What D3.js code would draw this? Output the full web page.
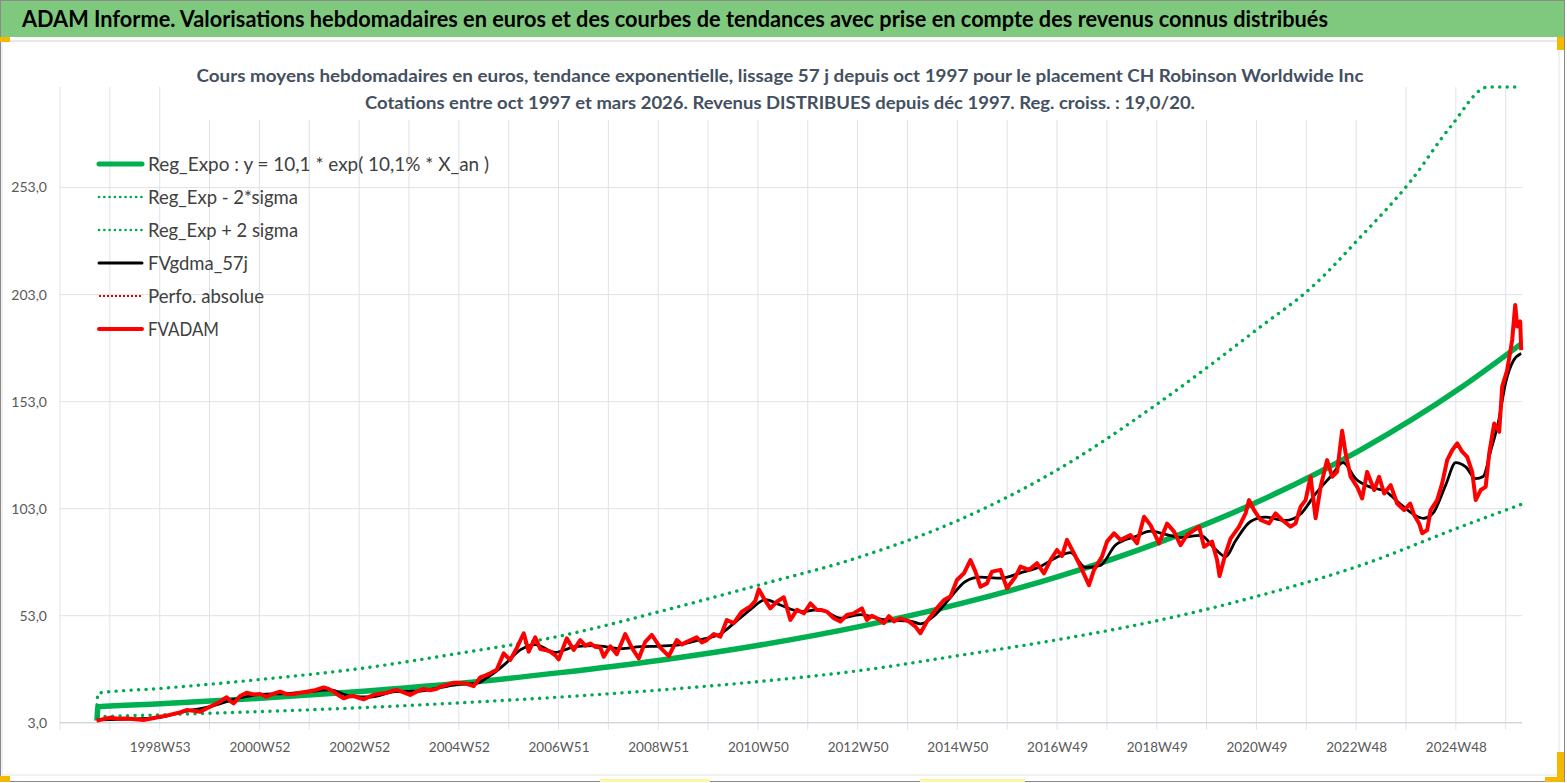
<!DOCTYPE html>
<html>
<head>
<meta charset="utf-8">
<script src="https://cdn.jsdelivr.net/npm/d3@7"></script>
<style>
  body { margin: 0; background: #fff; }
  svg { display: block; }
</style>
</head>
<body>
<div id="chart"></div>
<script>
// ---- data (year as decimal, value in euros) ----
const xLabels = ['1998W53', '2000W52', '2002W52', '2004W52', '2006W51', '2008W51', '2010W50',
  '2012W50', '2014W50', '2016W49', '2018W49', '2020W49', '2022W48', '2024W48'];

const yTicks = [3, 53, 103, 153, 203, 253];

const legendNames = ['Reg_Expo : y = 10,1 * exp( 10,1% *  X_an )', 'Reg_Exp - 2*sigma',
  'Reg_Exp + 2 sigma', 'FVgdma_57j', 'Perfo. absolue', 'FVADAM'];

const regExpo = [[1997.74, 4.0], [1997.76, 10.4], [1999, 11.8], [2001, 14.4], [2003, 17.6],
  [2005, 21.4], [2007, 26.4], [2009, 32.2], [2011, 39.3], [2013, 48.0], [2015, 58.6],
  [2017, 71.6], [2019, 87.5], [2021, 106.8], [2023, 130.5], [2025, 159.5], [2026.21, 180.0]];

const regMinus = [[1997.75, 5.8], [1999, 6.7], [2001, 8.2], [2003, 10.0], [2005, 12.3],
  [2007, 15.0], [2009, 18.3], [2011, 22.3], [2013, 27.4], [2015, 34.5], [2017, 42.0],
  [2019, 51.0], [2021, 62.5], [2023, 76.5], [2025, 94.5], [2026.21, 105.0]];

const regPlus = [[1997.74, 11.3], [1997.76, 16.8], [1999, 19.0], [2001, 23.2], [2003, 28.3],
  [2005, 35.5], [2007, 43.5], [2009, 55.0], [2011, 67.5], [2013, 80.5], [2015, 98.0],
  [2017, 122.0], [2019, 153.0], [2021, 188.0], [2022, 206.0], [2023, 230.0], [2024, 256.0],
  [2024.8, 281.5], [2025.55, 300], [2026.21, 300]];

const fvgdma = [[1997.75, 4.3], [1998.5, 4.8], [1999.0, 5.5], [1999.5, 8.3], [2000.0, 10.5],
  [2000.5, 14.0], [2001.0, 16.2], [2001.5, 16.6], [2002.0, 17.5], [2002.4, 18.3], [2002.8, 15.4],
  [2003.2, 15.0], [2003.7, 17.5], [2004.2, 17.8], [2004.6, 19.4], [2005.0, 21.0], [2005.3, 21.2],
  [2005.6, 25.0], [2005.9, 30.5], [2006.2, 37.0], [2006.5, 39.5], [2006.9, 35.8], [2007.3, 38.5],
  [2007.7, 39.0], [2008.2, 37.6], [2008.6, 38.5], [2009.0, 38.8], [2009.4, 39.5], [2009.8, 41.8],
  [2010.2, 44.5], [2010.5, 50.0], [2010.8, 55.8], [2011.1, 60.5], [2011.4, 58.0], [2011.8, 55.0],
  [2012.2, 55.8], [2012.6, 51.8], [2013.0, 53.5], [2013.5, 51.0], [2014.0, 50.5], [2014.2, 49.2],
  [2014.5, 53.5], [2014.8, 61.5], [2015.1, 69.0], [2015.4, 71.0], [2015.8, 70.5], [2016.2, 73.0],
  [2016.6, 76.0], [2016.9, 80.0], [2017.2, 82.5], [2017.5, 75.5], [2017.8, 76.5], [2018.1, 86.0],
  [2018.5, 90.0], [2018.8, 92.5], [2019.1, 91.0], [2019.4, 89.5], [2019.8, 90.5], [2020.1, 84.0],
  [2020.3, 80.5], [2020.5, 88.0], [2020.8, 97.0], [2021.1, 99.0], [2021.5, 97.5], [2021.8, 100.5],
  [2022.1, 110.0], [2022.4, 118.0], [2022.65, 124.5], [2022.9, 117.0], [2023.2, 113.0],
  [2023.5, 111.0], [2023.8, 105.0], [2024.05, 100.5], [2024.25, 98.5], [2024.45, 101.0],
  [2024.7, 114.0], [2024.9, 124.5], [2025.1, 122.5], [2025.3, 117.0], [2025.45, 118.0],
  [2025.6, 130.0], [2025.75, 143.0], [2025.9, 162.0], [2026.05, 172.0], [2026.21, 175.5]];

const fvadam = [[1997.73, 4.0], [1997.8, 4.3], [1998.0, 5.3], [1998.17, 4.8], [1998.33, 5.0],
  [1998.5, 4.6], [1998.67, 4.3], [1998.83, 5.0], [1999.0, 5.8], [1999.13, 6.3], [1999.27, 7.1],
  [1999.4, 7.8], [1999.53, 8.9], [1999.67, 8.6], [1999.8, 8.1], [1999.93, 9.6], [2000.07, 11.3],
  [2000.2, 12.8], [2000.33, 14.9], [2000.4, 13.2], [2000.47, 12.0], [2000.6, 15.5], [2000.73, 17.0],
  [2000.87, 16.2], [2001.0, 16.4], [2001.13, 15.1], [2001.27, 16.6], [2001.4, 17.5], [2001.53, 16.3],
  [2001.67, 16.4], [2001.8, 17.0], [2001.93, 17.5], [2002.1, 18.2], [2002.27, 19.5], [2002.37, 18.8],
  [2002.47, 17.5], [2002.57, 15.8], [2002.67, 14.4], [2002.77, 15.2], [2002.87, 15.5], [2002.97, 14.6],
  [2003.07, 13.9], [2003.17, 15.0], [2003.27, 16.0], [2003.4, 16.5], [2003.53, 17.0], [2003.63, 17.8],
  [2003.73, 18.3], [2003.87, 17.2], [2004.0, 16.0], [2004.13, 17.5], [2004.27, 18.8], [2004.4, 18.2],
  [2004.53, 18.8], [2004.6, 19.8], [2004.73, 20.6], [2004.87, 21.7], [2005.0, 21.5], [2005.13, 21.2],
  [2005.27, 20.1], [2005.4, 24.2], [2005.5, 25.0], [2005.6, 26.1], [2005.73, 27.7], [2005.87, 35.4],
  [2006.0, 32.3], [2006.13, 37.8], [2006.27, 44.8], [2006.37, 36.2], [2006.5, 42.9], [2006.6, 37.4],
  [2006.7, 37.0], [2006.8, 36.2], [2006.9, 34.5], [2006.97, 32.6], [2007.13, 42.4], [2007.27, 37.0],
  [2007.4, 41.6], [2007.5, 39.0], [2007.6, 40.0], [2007.7, 38.5], [2007.8, 38.1], [2007.87, 33.8],
  [2008.0, 38.7], [2008.13, 35.0], [2008.3, 44.4], [2008.43, 38.1], [2008.57, 33.0], [2008.7, 40.8],
  [2008.83, 44.0], [2009.0, 38.1], [2009.17, 34.1], [2009.33, 41.6], [2009.43, 39.5], [2009.53, 40.8],
  [2009.63, 41.8], [2009.73, 42.9], [2009.83, 40.5], [2009.93, 41.6], [2010.07, 44.4], [2010.2, 43.2],
  [2010.33, 51.0], [2010.47, 49.5], [2010.63, 54.9], [2010.8, 57.3], [2010.9, 60.0], [2010.97, 65.3],
  [2011.07, 61.1], [2011.2, 56.4], [2011.33, 59.5], [2011.47, 61.6], [2011.6, 51.0], [2011.73, 55.7],
  [2011.87, 54.1], [2012.0, 58.7], [2012.13, 55.7], [2012.2, 55.7], [2012.33, 54.9], [2012.47, 51.8],
  [2012.6, 50.3], [2012.73, 53.3], [2012.87, 54.1], [2013.03, 56.4], [2013.13, 51.0], [2013.23, 53.0],
  [2013.33, 51.8], [2013.47, 49.5], [2013.57, 52.8], [2013.67, 50.3], [2013.8, 51.8], [2013.97, 50.3],
  [2014.1, 47.9], [2014.2, 44.8], [2014.33, 50.3], [2014.5, 55.7], [2014.67, 60.3], [2014.8, 61.9],
  [2014.93, 69.7], [2015.07, 72.8], [2015.2, 79.0], [2015.3, 73.6], [2015.4, 66.5], [2015.53, 68.1],
  [2015.63, 73.6], [2015.8, 74.4], [2015.93, 65.8], [2016.1, 71.2], [2016.2, 75.9], [2016.37, 74.4],
  [2016.53, 77.5], [2016.67, 72.8], [2016.8, 79.0], [2016.93, 83.7], [2017.03, 80.9], [2017.13, 88.4],
  [2017.27, 82.1], [2017.4, 75.9], [2017.57, 67.3], [2017.67, 74.4], [2017.83, 80.6], [2017.93, 87.6],
  [2018.07, 91.5], [2018.2, 88.4], [2018.4, 90.7], [2018.53, 86.8], [2018.67, 99.2], [2018.8, 95.3],
  [2018.97, 86.8], [2019.13, 96.0], [2019.27, 92.3], [2019.4, 86.0], [2019.53, 90.7], [2019.77, 94.6],
  [2019.87, 85.2], [2020.03, 87.6], [2020.13, 79.0], [2020.18, 71.5], [2020.3, 82.0], [2020.4, 89.0],
  [2020.57, 94.6], [2020.7, 100.8], [2020.77, 107.0], [2020.87, 102.3], [2021.0, 97.7], [2021.17, 96.1],
  [2021.3, 100.8], [2021.43, 97.7], [2021.6, 94.6], [2021.7, 96.1], [2021.8, 103.9], [2021.9, 107.0],
  [2022.0, 117.9], [2022.1, 98.5], [2022.2, 113.2], [2022.33, 125.7], [2022.43, 117.9], [2022.53, 120.2],
  [2022.63, 139.4], [2022.7, 128.8], [2022.8, 117.9], [2022.93, 113.2], [2023.03, 107.8], [2023.13, 120.2],
  [2023.27, 111.7], [2023.37, 117.9], [2023.47, 110.1], [2023.6, 114.0], [2023.73, 105.4], [2023.87, 102.3],
  [2023.99, 105.4], [2024.07, 100.0], [2024.17, 96.1], [2024.23, 91.5], [2024.33, 93.0], [2024.4, 102.3],
  [2024.53, 107.0], [2024.63, 114.8], [2024.73, 125.7], [2024.83, 130.3], [2024.93, 133.5], [2025.03, 129.6],
  [2025.13, 127.2], [2025.23, 120.2], [2025.3, 107.0], [2025.4, 111.7], [2025.5, 113.2], [2025.57, 128.8],
  [2025.67, 142.8], [2025.77, 138.9], [2025.83, 160.0], [2025.93, 167.8], [2026.03, 181.9], [2026.09, 198.2],
  [2026.13, 188.1], [2026.19, 190.5], [2026.21, 177.1]];

// ---- layout ----
const width = 1567;
const height = 783;
const weeksPerYear = 52.18;
const nWeeks = 1525;
const plotLeft = 60, plotRight = 1522, plotTop = 87, plotBottom = 722.7;
const font = 'Lato, "Open Sans", sans-serif';

const svg = d3.select('#chart')
  .append('svg')
  .attr('width', width)
  .attr('height', height);

// frame and title bar
svg.append('rect')
  .attr('x', 0.5).attr('y', 0.5)
  .attr('width', width - 3).attr('height', height - 2)
  .style('fill', '#fff').style('stroke', '#8a8a8a');

svg.append('rect')
  .attr('x', 1).attr('y', 1)
  .attr('width', width - 4).attr('height', 36)
  .style('fill', '#7fc97f');

svg.append('line')
  .attr('x1', 1).attr('x2', width - 4).attr('y1', 41).attr('y2', 41)
  .style('stroke', '#d9d9d9');

svg.append('rect')
  .attr('x', 2).attr('y', 41)
  .attr('width', 1557).attr('height', 734)
  .style('fill', 'none').style('stroke', '#e3e3e3');

svg.append('text')
  .attr('x', 22).attr('y', 27)
  .attr('textLength', 1306).attr('lengthAdjust', 'spacingAndGlyphs')
  .style('font-family', font).style('font-size', '22px').style('font-weight', 'bold')
  .style('fill', '#000')
  .text('ADAM Informe. Valorisations hebdomadaires en euros et des courbes de tendances avec prise en compte des revenus connus distribués');

// excel selection handles
const handles = [[0, 37, 10, 5], [1557, 37, 7, 13], [0, 776, 10, 6], [1557, 752, 7, 30], [1545, 777, 19, 5]];
svg.selectAll('rect.handle').data(handles).enter().append('rect')
  .attr('class', 'handle')
  .attr('x', d => d[0]).attr('y', d => d[1])
  .attr('width', d => d[2]).attr('height', d => d[3])
  .style('fill', '#f5b800');
const paleHandles = [[600, 779, 110, 3], [920, 779, 105, 3]];
svg.selectAll('rect.pale').data(paleHandles).enter().append('rect')
  .attr('class', 'pale')
  .attr('x', d => d[0]).attr('y', d => d[1])
  .attr('width', d => d[2]).attr('height', d => d[3])
  .style('fill', '#fff3a8');

// ---- scales ----
const x = d3.scaleLinear().domain([0, nWeeks]).range([plotLeft, plotRight]);
const y = d3.scaleLinear().domain([3, 300]).range([plotBottom, plotTop]);
const toWeek = yr => (yr - 1997) * weeksPerYear;

const gridWeeks = d3.range(0, nWeeks, 52);
const labelWeeks = xLabels.map((d, i) => 104 * (i + 1));

// vertical gridlines and tick marks
svg.append('g')
  .selectAll('line')
  .data(gridWeeks)
  .enter().append('line')
  .attr('x1', d => x(d)).attr('x2', d => x(d))
  .attr('y1', plotTop).attr('y2', plotBottom + 7)
  .style('stroke', '#dfe2e8').style('stroke-width', 1);

// horizontal gridlines
svg.append('g')
  .selectAll('line')
  .data(yTicks)
  .enter().append('line')
  .attr('x1', plotLeft).attr('x2', plotRight)
  .attr('y1', d => y(d)).attr('y2', d => y(d))
  .style('stroke', d => d === 3 ? '#d4d7de' : '#dfe2e8')
  .style('stroke-width', d => d === 3 ? 1.5 : 1);

// y labels
svg.append('g')
  .selectAll('text')
  .data(yTicks)
  .enter().append('text')
  .attr('x', 47).attr('y', d => y(d))
  .attr('dy', '0.35em')
  .attr('text-anchor', 'end')
  .style('font-family', font).style('font-size', '14px').style('fill', '#595959')
  .text(d => d3.format('.1f')(d).replace('.', ','));

// x labels
const xAxis = d3.axisBottom(x)
  .tickValues(labelWeeks)
  .tickFormat((d, i) => xLabels[i])
  .tickSize(0)
  .tickPadding(20);
const gx = svg.append('g')
  .attr('transform', `translate(0,${plotBottom})`)
  .call(xAxis);
gx.select('.domain').remove();
gx.selectAll('text')
  .style('font-family', font).style('font-size', '13.5px').style('fill', '#595959');

// subtitle (opaque box over the gridlines)
svg.append('rect')
  .attr('x', 185).attr('y', 58)
  .attr('width', 1195).attr('height', 62)
  .style('fill', '#fff');

const subtitle = [
  ['Cours moyens hebdomadaires en euros, tendance exponentielle, lissage 57 j depuis oct 1997 pour le placement CH Robinson Worldwide Inc', 82, 1167],
  ['Cotations entre oct 1997 et mars 2026. Revenus DISTRIBUES depuis déc 1997. Reg. croiss. : 19,0/20.', 109, 830]
];
svg.selectAll('text.sub').data(subtitle).enter().append('text')
  .attr('class', 'sub')
  .attr('x', 780).attr('y', d => d[1])
  .attr('text-anchor', 'middle')
  .attr('textLength', d => d[2]).attr('lengthAdjust', 'spacingAndGlyphs')
  .style('font-family', font).style('font-size', '16.5px').style('font-weight', 'bold')
  .style('fill', '#44505f')
  .text(d => d[0]);

// ---- series ----
svg.append('clipPath').attr('id', 'plot-clip')
  .append('rect')
  .attr('x', plotLeft).attr('y', plotTop - 3)
  .attr('width', plotRight - plotLeft + 4).attr('height', plotBottom - plotTop + 6);

const plot = svg.append('g').attr('clip-path', 'url(#plot-clip)');

const lineSmooth = d3.line()
  .x(d => x(toWeek(d[0])))
  .y(d => y(d[1]))
  .curve(d3.curveMonotoneX);

const lineRaw = d3.line()
  .x(d => x(toWeek(d[0])))
  .y(d => y(d[1]));

plot.append('path')
  .attr('d', lineSmooth(regExpo))
  .style('fill', 'none').style('stroke', '#00b050').style('stroke-width', 5.5);

[regMinus, regPlus].forEach(series => {
  plot.append('path')
    .attr('d', lineSmooth(series))
    .style('fill', 'none').style('stroke', '#00a84f')
    .style('stroke-width', 3.4).style('stroke-linecap', 'round')
    .style('stroke-dasharray', '0.1 7.4');
});

plot.append('path')
  .attr('d', lineSmooth(fvgdma))
  .style('fill', 'none').style('stroke', '#000').style('stroke-width', 2.8)
  .style('stroke-linejoin', 'round');

plot.append('path')
  .attr('d', lineRaw(fvadam))
  .style('fill', 'none').style('stroke', '#ff0000').style('stroke-width', 4)
  .style('stroke-linejoin', 'round');

// ---- legend ----
const legendStyles = [
  { color: '#00b050', w: 5, dash: null },
  { color: '#00a84f', w: 2.6, dash: '0.1 5.2' },
  { color: '#00a84f', w: 2.6, dash: '0.1 5.2' },
  { color: '#000', w: 3, dash: null },
  { color: '#e00000', w: 2, dash: '2 2' },
  { color: '#ff0000', w: 4, dash: null }
];
const legendWidths = [341, 150, 150, 100, 116, 71];

const legend = svg.append('g');
const rows = legend.selectAll('g')
  .data(legendNames)
  .enter().append('g')
  .attr('transform', (d, i) => `translate(0,${164 + i * 33})`);

rows.append('line')
  .attr('x1', 99).attr('x2', 142)
  .style('stroke', (d, i) => legendStyles[i].color)
  .style('stroke-width', (d, i) => legendStyles[i].w)
  .style('stroke-linecap', (d, i) => i === 4 ? 'butt' : 'round')
  .style('stroke-dasharray', (d, i) => legendStyles[i].dash);

rows.append('text')
  .attr('x', 148).attr('dy', '0.35em')
  .attr('textLength', (d, i) => legendWidths[i]).attr('lengthAdjust', 'spacingAndGlyphs')
  .style('font-family', font).style('font-size', '19px').style('fill', '#404040')
  .text(d => d);
</script>
</body>
</html>
